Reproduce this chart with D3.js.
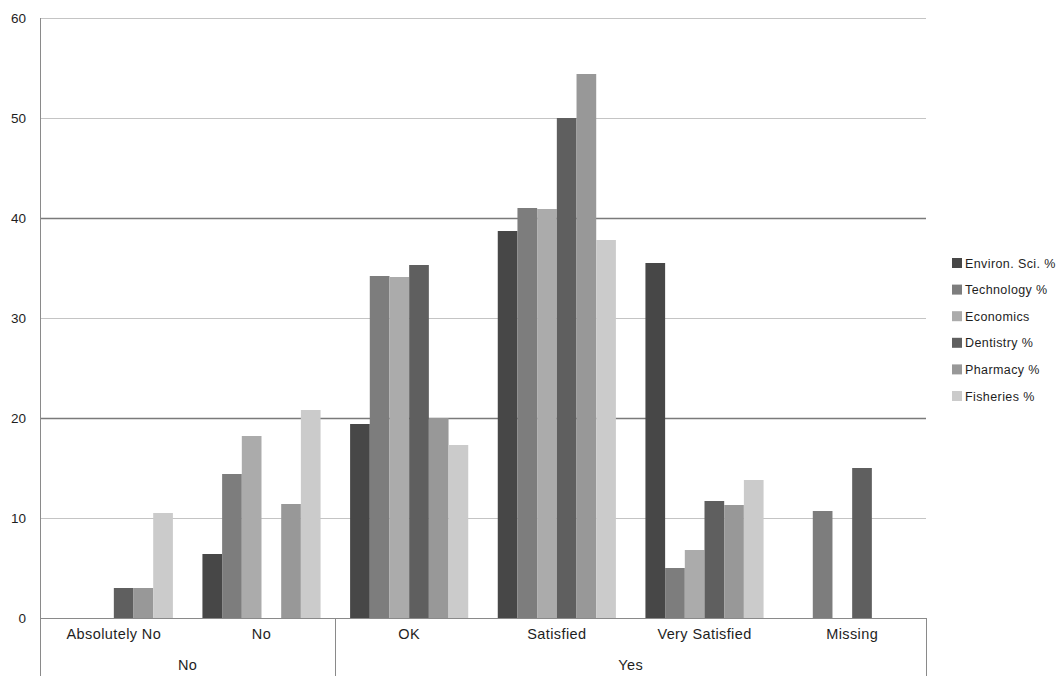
<!DOCTYPE html>
<html>
<head>
<meta charset="utf-8">
<script src="https://cdn.jsdelivr.net/npm/d3@7/dist/d3.min.js"></script>
<style>
  html, body { margin: 0; padding: 0; background: #ffffff; }
  svg { display: block; font-family: "Liberation Sans", Arial, sans-serif; }
</style>
</head>
<body>
<svg id="chart" width="1064" height="676"></svg>
<script>
// Satisfaction categories (inner level) and their parent groups (outer level)
const categories = ["Absolutely No", "No", "OK", "Satisfied", "Very Satisfied", "Missing"];
const parentGroups = [
  { label: "No",  from: 0, to: 2 },
  { label: "Yes", from: 2, to: 6 }
];
const seriesNames = ["Environ. Sci. %", "Technology %", "Economics", "Dentistry %", "Pharmacy %", "Fisheries %"];
const seriesColors = ["#474747", "#7d7d7d", "#ababab", "#5f5f5f", "#989898", "#cbcbcb"];

// Percent per category, one array per series (null = no bar)
const environSci = [null, 6.4, 19.4, 38.7, 35.5, null];
const technology = [null, 14.4, 34.2, 41.0, 5.0, 10.7];
const economics  = [null, 18.2, 34.1, 40.9, 6.8, null];
const dentistry  = [3.0, null, 35.3, 50.0, 11.7, 15.0];
const pharmacy   = [3.0, 11.4, 20.0, 54.4, 11.3, null];
const fisheries  = [10.5, 20.8, 17.3, 37.8, 13.8, null];
const seriesValues = [environSci, technology, economics, dentistry, pharmacy, fisheries];

const yTicks = [0, 10, 20, 30, 40, 50, 60];

const svg = d3.select("#chart");
const plot = { left: 40, right: 926, top: 18, bottom: 618 };
const textColor = "#1e1e1e";

const x0 = d3.scaleBand().domain(categories).range([plot.left, plot.right]).padding(0);
const x1 = d3.scaleBand().domain(seriesNames).range([0, x0.bandwidth()])
  .paddingInner(0).paddingOuter(0.75);
const y = d3.scaleLinear().domain([0, 60]).range([plot.bottom, plot.top]);

// Horizontal gridlines
const grid = svg.append("g");
grid.selectAll("line").data(yTicks.filter(d => d > 0)).join("line")
  .attr("x1", plot.left).attr("x2", plot.right)
  .attr("y1", d => y(d) + 0.5).attr("y2", d => y(d) + 0.5)
  .attr("stroke", d => (d === 20 || d === 40) ? "#7a7a7a" : "#c4c4c4")
  .attr("stroke-width", d => (d === 20 || d === 40) ? 1.3 : 1);

// Y axis labels
const yAxis = d3.axisLeft(y).tickValues(yTicks).tickSize(0).tickPadding(14);
const yg = svg.append("g").attr("transform", `translate(${plot.left},0)`).call(yAxis);
yg.select(".domain").remove();
yg.selectAll("text").attr("font-size", 13.5).attr("fill", textColor)
  .attr("font-family", "Liberation Sans, Arial, sans-serif");

// Bars
const groups = svg.append("g").selectAll("g").data(categories).join("g")
  .attr("transform", d => `translate(${x0(d)},0)`);
groups.selectAll("rect")
  .data((c, ci) => seriesNames.map((s, si) => ({ s, si, v: seriesValues[si][ci] })).filter(d => d.v != null))
  .join("rect")
  .attr("x", d => x1(d.s))
  .attr("width", x1.bandwidth())
  .attr("y", d => y(d.v))
  .attr("height", d => y(0) - y(d.v))
  .attr("fill", d => seriesColors[d.si]);

// Axis frame: baseline, left axis and multi-level category dividers
const frame = svg.append("g").attr("stroke", "#8a8a8a").attr("stroke-width", 1).attr("fill", "none");
frame.append("line").attr("x1", plot.left).attr("x2", plot.right)
  .attr("y1", plot.bottom + 0.5).attr("y2", plot.bottom + 0.5);
frame.append("line").attr("x1", plot.left + 0.5).attr("x2", plot.left + 0.5)
  .attr("y1", plot.top).attr("y2", 676);
parentGroups.forEach(g => {
  const xr = g.to < categories.length ? x0(categories[g.to]) : plot.right;
  frame.append("line").attr("x1", Math.round(xr) + 0.5).attr("x2", Math.round(xr) + 0.5)
    .attr("y1", plot.bottom).attr("y2", 676);
});

// Category labels
const xAxis = d3.axisBottom(x0).tickSize(0).tickPadding(11);
const xg = svg.append("g").attr("transform", `translate(0,${plot.bottom})`).call(xAxis);
xg.select(".domain").remove();
xg.selectAll("text").attr("font-size", 14.5).attr("fill", textColor)
  .attr("letter-spacing", 0.4)
  .attr("font-family", "Liberation Sans, Arial, sans-serif");

// Parent group labels
svg.append("g").selectAll("text").data(parentGroups).join("text")
  .attr("x", g => {
    const xl = x0(categories[g.from]);
    const xr = g.to < categories.length ? x0(categories[g.to]) : plot.right;
    return (xl + xr) / 2;
  })
  .attr("y", 670)
  .attr("text-anchor", "middle")
  .attr("font-size", 14.5).attr("fill", textColor)
  .attr("letter-spacing", 0.4)
  .text(g => g.label);

// Legend
const legend = svg.append("g").attr("transform", "translate(952,258)");
const items = legend.selectAll("g").data(seriesNames).join("g")
  .attr("transform", (d, i) => `translate(0,${i * 26.6})`);
items.append("rect").attr("width", 10).attr("height", 10)
  .attr("fill", (d, i) => seriesColors[i]);
items.append("text").attr("x", 13).attr("y", 9.5)
  .attr("font-size", 12.5).attr("fill", textColor)
  .attr("letter-spacing", 0.4).text(d => d);
</script>
</body>
</html>
